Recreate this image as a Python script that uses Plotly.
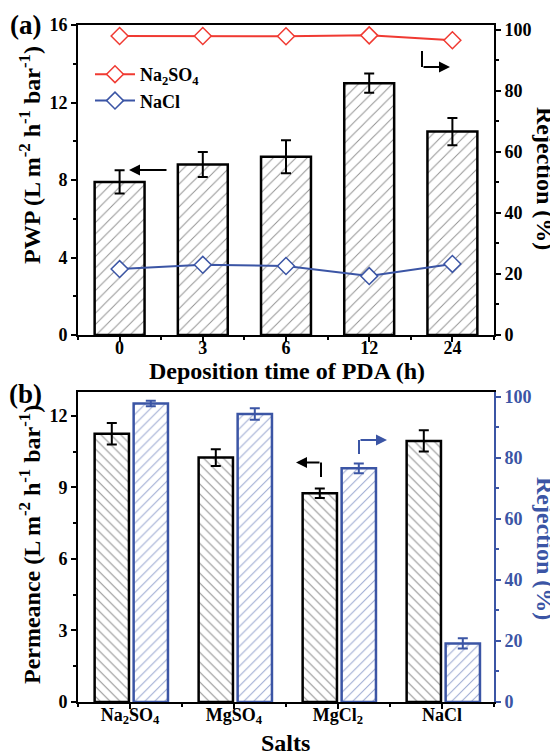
import plotly.graph_objects as go

# ---------------- data ----------------
dep_times = ["0", "3", "6", "12", "24"]
pwp = [7.9, 8.8, 9.2, 13.0, 10.5]
pwp_err = [0.6, 0.65, 0.85, 0.5, 0.7]
rej_na2so4 = [98.0, 98.0, 97.9, 98.2, 96.6]
rej_na2so4_err = [0.8, 0.8, 0.8, 0.8, 0.8]
rej_nacl = [21.6, 23.0, 22.6, 19.3, 23.3]
rej_nacl_err = [1.2, 1.2, 1.2, 1.2, 1.2]

salts = ["Na<sub>2</sub>SO<sub>4</sub>", "MgSO<sub>4</sub>", "MgCl<sub>2</sub>", "NaCl"]
permeance = [11.25, 10.25, 8.75, 10.95]
permeance_err = [0.45, 0.35, 0.2, 0.45]
salt_rej = [97.8, 94.4, 76.6, 19.2]
salt_rej_err = [0.9, 1.9, 1.6, 1.7]

# ---------------- styles ----------------
RED = "#f03a32"
BLUE = "#3b55a5"
FONT = "Liberation Serif"
TICK = 18
TITLE = 24

OFF = 8  # page body margin
X0, X1, YT, YB = 78, 494, 25, 702
W, H = 558, 755


def px(x):
    return (x - X0) / (X1 - X0)


def py(y):
    return (YB - y) / (YB - YT)


xa = list(range(len(dep_times)))
xb = list(range(len(salts)))

fig = go.Figure()

# top panel bars
fig.add_trace(go.Bar(
    x=xa, y=pwp, width=0.6, xaxis="x", yaxis="y",
    marker=dict(color="white", line=dict(color="black", width=2.5),
                pattern=dict(shape="/", fgcolor="#222222", bgcolor="white", size=8, solidity=0.12)),
    error_y=dict(type="data", array=pwp_err, color="black", thickness=2, width=5),
    showlegend=False,
))
fig.add_trace(go.Scatter(
    x=xa, y=rej_na2so4, xaxis="x", yaxis="y2", mode="lines+markers",
    name="Na<sub>2</sub>SO<sub>4</sub>",
    line=dict(color=RED, width=2),
    marker=dict(symbol="diamond", size=13, color="white", line=dict(color=RED, width=1.5)),
    error_y=dict(type="data", array=rej_na2so4_err, color=RED, thickness=1.5, width=3),
))
fig.add_trace(go.Scatter(
    x=xa, y=rej_nacl, xaxis="x", yaxis="y2", mode="lines+markers",
    name="NaCl",
    line=dict(color=BLUE, width=2),
    marker=dict(symbol="diamond", size=13, color="white", line=dict(color=BLUE, width=1.5)),
    error_y=dict(type="data", array=rej_nacl_err, color=BLUE, thickness=1.5, width=3),
))

# bottom panel bars
fig.add_trace(go.Bar(
    x=xb, y=permeance, offset=-0.34, width=0.33, xaxis="x2", yaxis="y3",
    marker=dict(color="white", line=dict(color="black", width=2.5),
                pattern=dict(shape="\\", fgcolor="#222222", bgcolor="white", size=7, solidity=0.15)),
    error_y=dict(type="data", array=permeance_err, color="black", thickness=2, width=5),
    showlegend=False,
))
fig.add_trace(go.Bar(
    x=xb, y=salt_rej, offset=0.035, width=0.33, xaxis="x2", yaxis="y4",
    marker=dict(color="white", line=dict(color=BLUE, width=2.5),
                pattern=dict(shape="/", fgcolor=BLUE, bgcolor="white", size=7, solidity=0.15)),
    error_y=dict(type="data", array=salt_rej_err, color=BLUE, thickness=2, width=5),
    showlegend=False,
))

top_dom = [py(335), 1]
bot_dom = [0, py(392)]

axis_common = dict(showline=True, linewidth=2, linecolor="black", ticks="outside",
                   ticklen=5, tickwidth=2, tickcolor="black", showgrid=False, zeroline=False,
                   tickfont=dict(family=FONT, size=TICK, color="black", weight="bold"))
xtick_extra = dict(ticklabelstandoff=-10)

fig.update_layout(
    width=W - OFF, height=H - OFF,
    margin=dict(l=X0 - OFF, r=W - X1, t=YT - OFF, b=H - YB, autoexpand=False),
    paper_bgcolor="white", plot_bgcolor="white",
    font=dict(family=FONT, size=TICK, color="black", weight="bold"),
    barmode="overlay",
    xaxis=dict(**axis_common, **xtick_extra, domain=[0, 1], anchor="y", range=[-0.5, len(xa) - 0.5],
               tickmode="array", tickvals=xa, ticktext=dep_times, mirror=True,
               minor=dict(dtick=0.5, tick0=0, ticks="outside", ticklen=3, tickwidth=2, tickcolor="black")),
    yaxis=dict(**axis_common, domain=top_dom, anchor="x", range=[0, 16], dtick=4,
               minor=dict(dtick=2, ticks="outside", ticklen=3, tickwidth=2, tickcolor="black")),
    yaxis2=dict(**axis_common, domain=top_dom, anchor="x", overlaying="y", side="right",
                range=[0, 101.6], dtick=20,
                minor=dict(dtick=10, ticks="outside", ticklen=3, tickwidth=2, tickcolor="black")),
    xaxis2=dict(**axis_common, **xtick_extra, domain=[0, 1], anchor="y3", range=[-0.5, len(xb) - 0.5],
                tickmode="array", tickvals=xb, ticktext=salts, mirror=True,
                minor=dict(dtick=0.5, tick0=0, ticks="outside", ticklen=3, tickwidth=2, tickcolor="black")),
    yaxis3=dict(**axis_common, domain=bot_dom, anchor="x2", range=[0, 13], dtick=3,
                minor=dict(dtick=1.5, ticks="outside", ticklen=3, tickwidth=2, tickcolor="black")),
    yaxis4=dict(showline=True, linewidth=2, linecolor=BLUE, ticks="outside", ticklen=5, tickwidth=2,
                tickcolor=BLUE, showgrid=False, zeroline=False,
                tickfont=dict(family=FONT, size=TICK, color=BLUE, weight="bold"),
                domain=bot_dom, anchor="x2", overlaying="y3", side="right",
                range=[0, 101.6], dtick=20,
                minor=dict(dtick=10, ticks="outside", ticklen=3, tickwidth=2, tickcolor=BLUE)),
    legend=dict(x=px(90), y=py(56), xanchor="left", yanchor="top", bgcolor="rgba(0,0,0,0)",
                font=dict(family=FONT, size=TICK, color="black", weight="bold"),
                itemwidth=40, tracegroupgap=0),
)

ann = []


def text_ann(txt, x, y, angle=0, size=TITLE, color="black"):
    ann.append(dict(text=txt, x=px(x), y=py(y), xref="paper", yref="paper", showarrow=False,
                    textangle=angle, xanchor="center", yanchor="middle",
                    font=dict(family=FONT, size=size, color=color, weight="bold")))


text_ann("(a)", 25, 25, size=27)
text_ann("(b)", 25, 394, size=27)
text_ann("PWP (L m<sup>-2</sup> h<sup>-1</sup> bar<sup>-1</sup>)", 30, 155, angle=-90)
text_ann("Rejection (%)", 545, 178, angle=90)
text_ann("Deposition time of PDA (h)", 287, 371)
text_ann("Permeance (L m<sup>-2</sup> h<sup>-1</sup> bar<sup>-1</sup>)", 30, 545, angle=-90)
text_ann("Rejection (%)", 545, 548, angle=90, color=BLUE)
text_ann("Salts", 285, 743)


def arrow_ann(xh, yh, xt, yt, color):
    ann.append(dict(text="", x=px(xh), y=py(yh), xref="paper", yref="paper", showarrow=True,
                    ax=xt - xh, ay=yt - yh, axref="pixel", ayref="pixel",
                    arrowhead=2, arrowsize=1.1, arrowwidth=2, arrowcolor=color))


shapes = []


def vline(x, y0, y1, color):
    shapes.append(dict(type="line", xref="paper", yref="paper", x0=px(x), x1=px(x),
                       y0=py(y0), y1=py(y1), line=dict(color=color, width=2)))


arrow_ann(129, 170, 168, 170, "black")
vline(422, 51, 67, "black")
arrow_ann(450, 67, 422, 67, "black")
vline(321, 477, 462.5, "black")
arrow_ann(296, 462.5, 321, 462.5, "black")
vline(359, 454, 440, BLUE)
arrow_ann(387, 440, 359, 440, BLUE)

fig.update_layout(annotations=ann, shapes=shapes)

fig.write_html("out.html")
